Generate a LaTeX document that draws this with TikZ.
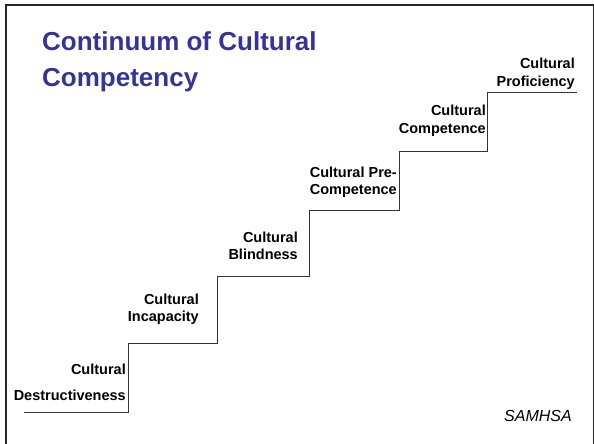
\documentclass[tikz,border=0pt]{standalone}
\usepackage{fontspec}
\setmainfont{Liberation Sans}
\definecolor{titleblue}{RGB}{51,51,153}
\begin{document}
\begin{tikzpicture}[x=1pt,y=-1pt]
\tikzstyle{every node}=[inner sep=0pt,font=\bfseries\fontsize{14.5}{17}\selectfont];
\tikzstyle{lbl}=[anchor=base east];
\useasboundingbox (0,0) rectangle (594,444);
% slide frame
\draw[line width=2pt,black!85] (5.5,444) -- (5.5,5) -- (594,5);
\draw[line width=1pt,black!85] (593,5) -- (593,444);
% title
\node[anchor=base west,text=titleblue,font=\bfseries\fontsize{26}{35}\selectfont] (t1) at (42,51) {Continuum of Cultural};
\node[anchor=base west,text=titleblue,font=\bfseries\fontsize{26}{35}\selectfont] (t2) at (42,86) {Competency};
% corners of the stairs
\coordinate (s0) at (24,412);
\coordinate (a1) at (128,412);
\coordinate (s1) at (128,343);
\coordinate (a2) at (217,343);
\coordinate (s2) at (217,276);
\coordinate (a3) at (309,276);
\coordinate (s3) at (309,210);
\coordinate (a4) at (399,210);
\coordinate (s4) at (399,151);
\coordinate (a5) at (487,151);
\coordinate (s5) at (487,92);
\coordinate (s6) at (577,92);
\draw[line width=0.9pt,black!80]
(s0) -- (a1) -- (s1) -- (a2) -- (s2) -- (a3) -- (s3)
-- (a4) -- (s4) -- (a5) -- (s5) -- (s6);
% step labels
\node[lbl] (d1) at (126,374) {Cultural};
\node[lbl] (d2) at (126,400) {Destructiveness};
\node[lbl] (i1) at (199,304) {Cultural};
\node[lbl] (i2) at (199,321) {Incapacity};
\node[lbl] (b1) at (298,242) {Cultural};
\node[lbl] (b2) at (298,259) {Blindness};
\node[lbl] (p1) at (397,177) {Cultural Pre-};
\node[lbl] (p2) at (397,194) {Competence};
\node[lbl] (c1) at (486,115) {Cultural};
\node[lbl] (c2) at (486,133) {Competence};
\node[lbl] (f1) at (575,68) {Cultural};
\node[lbl] (f2) at (575,86) {Proficiency};
% source
\node[lbl,font=\itshape\fontsize{16}{19}\selectfont] (src) at (572,421) {SAMHSA};
\end{tikzpicture}
\end{document}
